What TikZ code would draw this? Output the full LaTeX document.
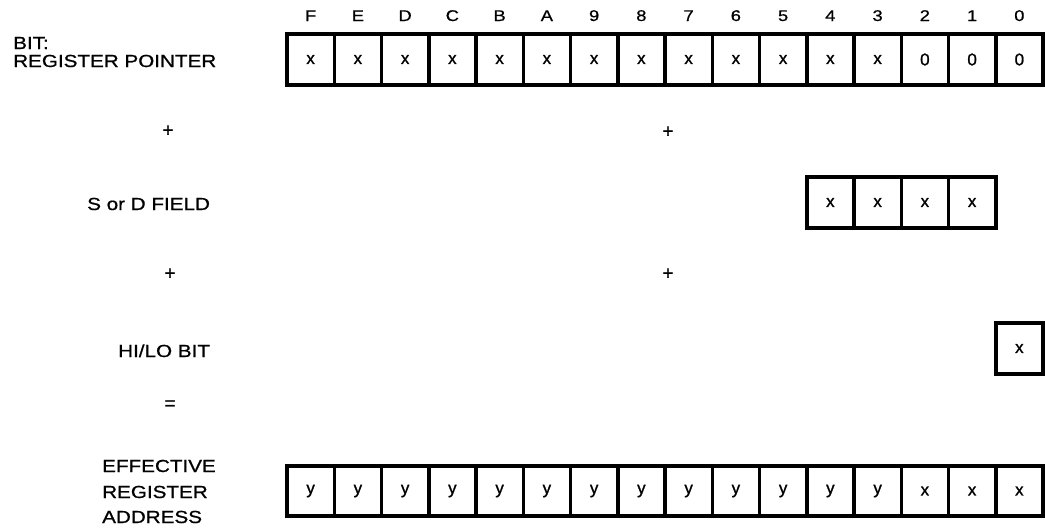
\documentclass[tikz,border=0pt]{standalone}
\usepackage{fontspec}
\setmainfont{Liberation Sans}[FakeStretch=1.18,FakeBold=0.8]
\newfontfamily\cellfont{Liberation Sans}[FakeBold=1.2]
\begin{document}
\begin{tikzpicture}[x=1pt,y=-1pt,
  cell/.style={draw, line width=3.5pt, minimum width=47.25pt, minimum height=51pt,
    inner sep=0pt, outer sep=0pt, font=\cellfont\fontsize{17}{17}\selectfont, anchor=center},
  bitlabel/.style={font=\fontsize{15.5}{16}\selectfont, anchor=base, inner sep=0pt},
  lbl/.style={font=\fontsize{17.5}{18}\selectfont, anchor=base west, inner sep=0pt},
  op/.style={font=\cellfont\fontsize{19}{19}\selectfont, inner sep=0pt},
  frame/.style={draw, line width=4.5pt}]
\useasboundingbox (0,0) rectangle (1045,531);
% bit numbers
\foreach \b [count=\k from 0] in {F,E,D,C,B,A,9,8,7,6,5,4,3,2,1,0}
  \node[bitlabel] (num\b) at ({287+47.25*(\k+0.5)},21) {\b};
% register pointer
\foreach \b/\v [count=\k from 0] in {F/x,E/x,D/x,C/x,B/x,A/x,9/x,8/x,7/x,6/x,5/x,4/x,3/x,2/0,1/0,0/0}
  \node[cell] (rp\b) at ({287+47.25*(\k+0.5)},59.5) {\v};
\draw[frame] (rpF.north west) rectangle (rp0.south east);
% S or D field
\foreach \b [count=\k from 11] in {4,3,2,1}
  \node[cell] (sd\b) at ({287+47.25*(\k+0.5)},202.5) {x};
\draw[frame] (sd4.north west) rectangle (sd1.south east);
% HI/LO bit
\node[cell] (hl0) at ({287+47.25*15.5},348.5) {x};
\draw[frame] (hl0.north west) rectangle (hl0.south east);
% effective register address
\foreach \b/\v [count=\k from 0] in {F/y,E/y,D/y,C/y,B/y,A/y,9/y,8/y,7/y,6/y,5/y,4/y,3/y,2/x,1/x,0/x}
  \node[cell, minimum height=50pt] (ea\b) at ({287+47.25*(\k+0.5)},491) {\v};
\draw[frame] (eaF.north west) rectangle (ea0.south east);
% labels
\node[lbl] (bitlbl) at (13,49) {BIT:};
\node[lbl] (rplbl) at (13,67) {REGISTER POINTER};
\node[op] (plusA) at (168,131) {+};
\node[op] (plusB) at (668,132) {+};
\node[lbl] (sdlbl) at (87,210) {S or D FIELD};
\node[op] (plusC) at (170,274) {+};
\node[op] (plusD) at (668,274) {+};
\node[lbl] (hllbl) at (118,357) {HI/LO BIT};
\node[op] (eq) at (170,405) {=};
\node[lbl] (eaA) at (102,472) {EFFECTIVE};
\node[lbl] (eaB) at (102,498) {REGISTER};
\node[lbl] (eaC) at (102,523) {ADDRESS};
\end{tikzpicture}
\end{document}
